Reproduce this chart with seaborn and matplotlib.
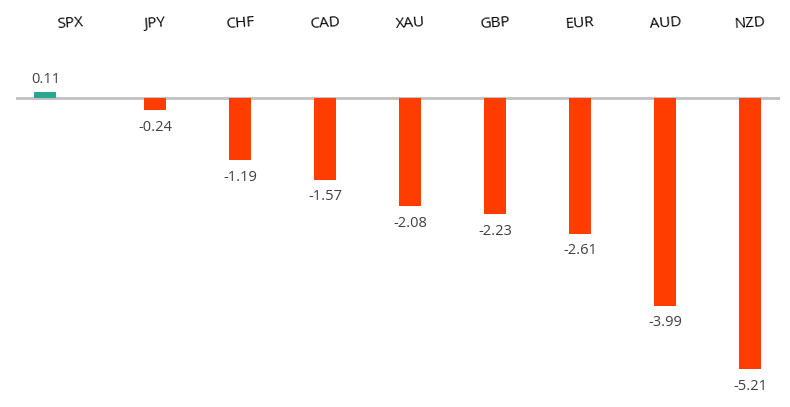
import matplotlib
matplotlib.use("Agg")
import matplotlib.pyplot as plt
import seaborn as sns
import pandas as pd

# weekly performance vs USD
symbols = ["SPX", "JPY", "CHF", "CAD", "XAU", "GBP", "EUR", "AUD", "NZD"]
changes = [0.11, -0.24, -1.19, -1.57, -2.08, -2.23, -2.61, -3.99, -5.21]

df = pd.DataFrame({"symbol": symbols, "change": changes})
df["dir"] = ["up" if v > 0 else "down" for v in df["change"]]

sns.set_style("white")
plt.rcParams["font.family"] = ["Open Sans", "DejaVu Sans"]

fig = plt.figure(figsize=(7.9, 4.07), dpi=100)
ax = fig.add_axes([16 / 790, 0, (780 - 16) / 790, (407 - 40) / 407])

sns.barplot(data=df, x="symbol", y="change", hue="dir",
            palette={"up": "#2BA58E", "down": "#FF3D00"}, saturation=1,
            width=0.26, dodge=False, legend=False, linewidth=0, ax=ax)

# SPX bar sits left of its label in the original
spx = ax.patches[0]
spx.set_x(spx.get_x() - 0.29)

ax.axhline(0, color="#BFBFBF", lw=2, zorder=0.5)

for i, v in enumerate(changes):
    xpos = i - 0.29 if i == 0 else i
    ax.annotate(f"{v:.2f}", (xpos, v), xytext=(0, 4 if v > 0 else -7),
                textcoords="offset points", ha="center",
                va="bottom" if v > 0 else "top", fontsize=10.5, color="#404040")

ax.set_xlim(-0.635, 8.35)
ax.set_ylim(-5.94, 1.115)
ax.xaxis.tick_top()
ax.tick_params(axis="x", length=0, pad=6, labelsize=11, labelcolor="#000000")
for lbl in ax.get_xticklabels():
    lbl.set_rotation(4)
ax.set_yticks([])
ax.set_xlabel("")
ax.set_ylabel("")
sns.despine(ax=ax, left=True, bottom=True, top=True, right=True)

fig.savefig("out.png", dpi=100)
